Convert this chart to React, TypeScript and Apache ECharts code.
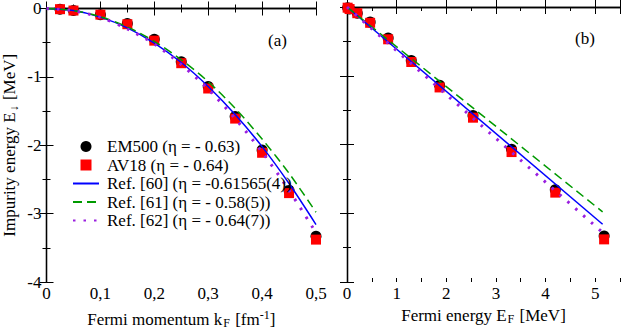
import React, { useEffect, useRef } from "react";
import * as echarts from "echarts";

const kF = [0.025, 0.05, 0.1, 0.15, 0.2, 0.25, 0.3, 0.35, 0.4, 0.45, 0.5];
const EF = [0.013, 0.052, 0.207, 0.466, 0.829, 1.295, 1.865, 2.538, 3.315, 4.196, 5.18];
const em500 = [-0.01, -0.03, -0.09, -0.22, -0.45, -0.78, -1.14, -1.58, -2.07, -2.66, -3.33];
const av18 = [-0.01, -0.03, -0.09, -0.23, -0.47, -0.8, -1.17, -1.61, -2.11, -2.7, -3.38];

const kLine = [0, 0.05, 0.1, 0.15, 0.2, 0.25, 0.3, 0.35, 0.4, 0.45, 0.5];
const ref60K = [0, -0.03, -0.126, -0.284, -0.506, -0.79, -1.14, -1.55, -2.02, -2.56, -3.16];
const ref61K = [0, -0.03, -0.12, -0.27, -0.48, -0.75, -1.07, -1.46, -1.91, -2.41, -2.98];
const ref62K = [0, -0.033, -0.13, -0.3, -0.52, -0.82, -1.18, -1.61, -2.1, -2.66, -3.28];

const eLine = [0, 5.15];
const ref60E = [0, -3.16];
const ref61E = [0, -2.98];
const ref62E = [0, -3.28];

const names = [
  "EM500 (η = - 0.63)",
  "AV18 (η = - 0.64)",
  "Ref. [60] (η = -0.61565(4))",
  "Ref. [61] (η = - 0.58(5))",
  "Ref. [62] (η = - 0.64(7))",
];

const FONT = "Liberation Serif";
const zip = (xs: number[], ys: number[]) => xs.map((x, i) => [x, ys[i]]);

export default function App() {
  const ref = useRef<HTMLDivElement>(null);
  useEffect(() => {
    const chart = echarts.init(ref.current!, null, { renderer: "svg" });
    const axisLine = { show: true, lineStyle: { color: "#000", width: 1.3 } };
    const tick = (len: number) => ({ show: true, inside: true, length: len, lineStyle: { color: "#000", width: 1 } });
    const minor = { show: true, splitNumber: 2, length: 4, lineStyle: { color: "#000", width: 1 } };
    const label = { fontFamily: FONT, fontSize: 17, color: "#000" };
    const hidden = { show: false };
    const rich = {
      a: { fontFamily: FONT, fontSize: 17, color: "#000" },
      sub: { fontFamily: FONT, fontSize: 12, color: "#000", padding: [8, 1, 0, 1] },
      sup: { fontFamily: FONT, fontSize: 12, color: "#000", padding: [0, 0, 8, 0] },
    };
    const kFmt = (v: number) => (v === 0 ? "0" : v.toFixed(1).replace(".", ","));

    const lineSeries = (name: string, data: number[][], xi: number, yi: number, color: string, type: any, width: number) => ({
      name, type: "line", xAxisIndex: xi, yAxisIndex: yi, data, symbol: "none", smooth: xi === 0 ? 0.3 : false,
      lineStyle: { color, type, width, cap: "butt" }, itemStyle: { color }, z: 3,
    });
    const scatter = (name: string, data: number[][], xi: number, yi: number, color: string, symbol: string, size: number) => ({
      name, type: "scatter", xAxisIndex: xi, yAxisIndex: yi, data, symbol, symbolSize: size,
      itemStyle: { color, opacity: 1 }, z: 2,
    });
    const noSym = { color: "rgba(0,0,0,0)", opacity: 0, borderWidth: 0 };

    chart.setOption({
      animation: false,
      backgroundColor: "#fff",
      textStyle: { fontFamily: FONT },
      grid: [
        { left: 42, top: 7, width: 274, height: 275 },
        { left: 347, top: 7, width: 275, height: 275 },
      ],
      xAxis: [
        { gridIndex: 0, type: "value", position: "bottom", min: 0, max: 0.5, interval: 0.1, axisLine, axisTick: tick(7), minorTick: minor, splitLine: hidden,
          axisLabel: { ...label, margin: 3, formatter: kFmt },
          name: "{a|Fermi momentum k}{sub|F}{a| [fm}{sup|-1}{a|]}", nameLocation: "middle", nameGap: 27, nameTextStyle: { rich } },
        { gridIndex: 0, type: "value", position: "top", min: 0, max: 0.5, interval: 0.1, axisLine, axisTick: tick(7), minorTick: minor, splitLine: hidden, axisLabel: hidden },
        { gridIndex: 1, type: "value", position: "bottom", min: 0, max: 5.5, interval: 1, axisLine, axisTick: tick(7), splitLine: hidden,
          axisLabel: { ...label, margin: 3, formatter: (v: number) => (Number.isInteger(v) ? String(v) : "") },
          name: "{a|Fermi energy E}{sub|F}{a| [MeV]}", nameLocation: "middle", nameGap: 19, nameTextStyle: { rich } },
        { gridIndex: 1, type: "value", position: "top", min: 0, max: 5.5, interval: 1, axisLine, axisTick: tick(7), splitLine: hidden, axisLabel: hidden },
        { gridIndex: 1, type: "value", position: "bottom", min: 0, max: 5.5, interval: 0.5, axisLine: hidden, axisTick: tick(4), splitLine: hidden, axisLabel: hidden },
        { gridIndex: 1, type: "value", position: "top", min: 0, max: 5.5, interval: 0.5, axisLine: hidden, axisTick: tick(4), splitLine: hidden, axisLabel: hidden },
      ],
      yAxis: [
        { gridIndex: 0, type: "value", position: "left", min: -4, max: 0, interval: 1, axisLine, axisTick: tick(7), minorTick: minor, splitLine: hidden,
          axisLabel: { ...label, margin: 5 },
          name: "{a|Impurity energy E}{sub|↓}{a| [MeV]}", nameLocation: "middle", nameGap: 27, nameRotate: 90, nameTextStyle: { rich } },
        { gridIndex: 0, type: "value", position: "right", min: -4, max: 0, interval: 1, axisLine, axisTick: tick(7), minorTick: minor, splitLine: hidden, axisLabel: hidden },
        { gridIndex: 1, type: "value", position: "left", min: -4, max: 0, interval: 1, axisLine, axisTick: tick(7), minorTick: minor, splitLine: hidden, axisLabel: hidden },
        { gridIndex: 1, type: "value", position: "right", min: -4, max: 0, interval: 1, axisLine, axisTick: tick(7), minorTick: minor, splitLine: hidden, axisLabel: hidden },
      ],
      legend: {
        orient: "vertical", left: 67, top: 133, itemWidth: 26, itemHeight: 11, itemGap: 1.5,
        textStyle: { fontFamily: FONT, fontSize: 17, color: "#000", padding: [0, 0, 0, 3] },
        data: [
          { name: names[0], icon: "circle" },
          { name: names[1], icon: "path://M0,0L10,0L10,10L0,10Z" },
          { name: names[2], itemStyle: noSym },
          { name: names[3], itemStyle: noSym },
          { name: names[4], itemStyle: noSym },
        ],
      },
      graphic: [
        { type: "text", left: 268, top: 32, style: { text: "(a)", font: `17px ${FONT}`, fill: "#000" } },
        { type: "text", left: 575, top: 30, style: { text: "(b)", font: `17px ${FONT}`, fill: "#000" } },
      ],
      series: [
        scatter(names[0], zip(kF, em500), 0, 0, "#000", "circle", 11),
        scatter(names[1], zip(kF, av18), 0, 0, "#ff0000", "rect", 10),
        lineSeries(names[2], zip(kLine, ref60K), 0, 0, "#0000ff", "solid", 1.5),
        lineSeries(names[3], zip(kLine, ref61K), 0, 0, "#009a00", [9, 5], 1.5),
        lineSeries(names[4], zip(kLine, ref62K), 0, 0, "#9a1ee0", [2.5, 8], 3),
        scatter(names[0], zip(EF, em500), 2, 2, "#000", "circle", 11),
        scatter(names[1], zip(EF, av18), 2, 2, "#ff0000", "rect", 10),
        lineSeries(names[2], zip(eLine, ref60E), 2, 2, "#0000ff", "solid", 1.5),
        lineSeries(names[3], zip(eLine, ref61E), 2, 2, "#009a00", [9, 5], 1.5),
        lineSeries(names[4], zip(eLine, ref62E), 2, 2, "#9a1ee0", [2.5, 8], 3),
      ],
    });
    return () => chart.dispose();
  }, []);
  return <div ref={ref} style={{ position: "fixed", left: 0, top: 0, width: 623, height: 334 }} />;
}
